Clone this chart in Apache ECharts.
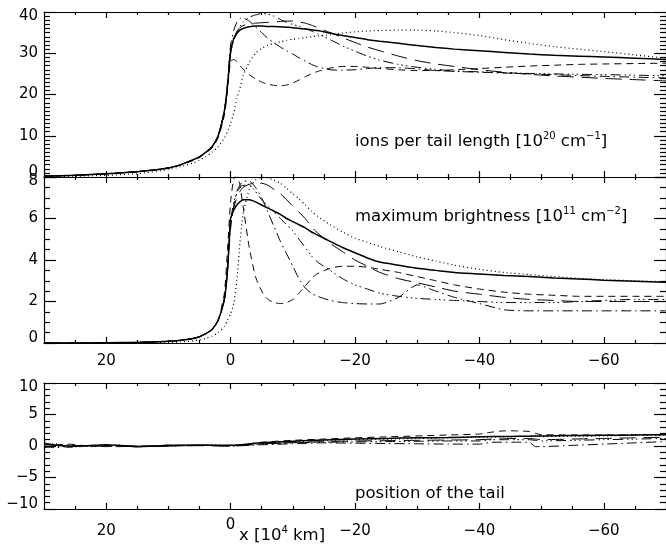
<!DOCTYPE html>
<html><head><meta charset="utf-8">
<script src="https://cdn.jsdelivr.net/npm/echarts@6/dist/echarts.min.js"></script>
<style>html,body{margin:0;padding:0;background:#fff}#c{width:666px;height:548px}</style>
</head><body><div id="c"></div>
<script>
// shared x grid for panels 1 and 2 (x in 10^4 km)
const xs = [30, 25, 20, 15, 10, 8, 6, 5, 4, 3, 2, 1, 0.5, 0, -0.5, -1, -1.5, -2, -3, -4, -5, -6, -7, -8, -9, -10, -11, -12, -13, -14, -16, -18, -20, -22, -24, -27, -30, -33, -36, -40, -44, -48, -52, -56, -60, -65, -70];

// panel 1: ions per tail length
const ionsSolid = [0.2,0.4,0.8,1.3,2.2,3.0,4.2,4.9,6.0,7.3, 10,16,22,30.5,33.5,34.8,35.6,36,36.4,36.6, 36.6,36.5,36.5,36.4,36.3,36.2,36.0,35.9,35.7,35.5, 34.9,34.3,33.8,33.3,32.9,32.4,31.9,31.4,31.0,30.6, 30.2,29.8,29.5,29.3,29.1,28.8,28.5];
const ionsDotted = [0.1,0.2,0.4,0.8,1.8,2.5,3.4,4.1,4.9,6.0, 7.3,9.5,11,13,15.5,19,21.5,24.5,27.8,30, 31.2,31.9,32.4,32.8,33.1,33.4,33.6,33.8,34.0,34.2, 34.5,34.9,35.2,35.4,35.5,35.6,35.6,35.4,35.0,34.3, 33.3,32.4,31.6,31.0,30.4,29.6,28.8];
const ionsDashed = [0.2,0.4,0.8,1.3,2.1,2.9,4.0,4.7,5.8,7.0, 9.5,15,21,28,28.5,28,27,26.2,24.8,23.8, 23,22.5,22.2,22.1,22.3,22.8,23.5,24.3,25,25.6, 26.4,26.8,26.8,26.6,26.3,26,25.8,25.8,26,26.3, 26.6,26.9,27.1,27.3,27.4,27.5,27.6];
const ionsDashDot = [0.2,0.4,0.8,1.3,2.2,3.0,4.2,4.9,6.0,7.3, 10,16,23,32,35.5,37.5,38.4,38.5,37.8,36.4, 35,33.6,32.5,31.5,30.6,29.8,28.9,28.1,27.3,26.7, 26,25.9,26,26.3,26.5,26.5,26.2,25.8,25.6,25.4, 25.2,25,24.8,24.6,24.4,24.2,24];
const ionsDash3 = [0.2,0.4,0.8,1.3,2.2,3.0,4.2,4.9,6.0,7.3, 10,16,22,30,33,35,36.5,37.5,38.7,39.3, 39.6,39.5,39,38.2,37.5,37,36.5,36,35.4,34.7, 33.3,31.8,30.5,29.3,28.3,27.3,26.6,26.1,25.7,25.5, 25.3,25.1,25,24.9,24.8,24.7,24.5];
const ionsLong = [0.2,0.4,0.8,1.3,2.2,3.0,4.2,4.9,6.0,7.3, 10,16,22,30,33.5,35.3,36.2,36.7,37.1,37.3, 37.4,37.5,37.6,37.7,37.8,37.8,37.6,37.3,36.8,36.2, 35,33.8,32.6,31.5,30.6,29.3,28.2,27.4,26.8,26, 25.4,24.9,24.5,24.2,23.9,23.6,23.3];

// panel 2: maximum brightness
const brSolid = [0,0,0.01,0.03,0.08,0.13,0.22,0.3,0.45,0.65, 1.1,2.1,3.5,6.0,6.4,6.65,6.8,6.9,6.9,6.8, 6.65,6.5,6.35,6.2,6.0,5.85,5.7,5.55,5.35,5.2, 4.9,4.6,4.35,4.1,3.9,3.75,3.6,3.5,3.4,3.33, 3.25,3.2,3.13,3.08,3.03,2.98,2.93];
const brDotted = [0,0,0,0.01,0.03,0.05,0.1,0.15,0.22,0.33, 0.5,0.8,1.1,1.4,1.9,3.0,4.8,6.2,7.4,7.85, 8.0,7.95,7.85,7.7,7.45,7.2,6.95,6.65,6.35,6.1, 5.7,5.35,5.05,4.85,4.65,4.4,4.15,3.95,3.75,3.55, 3.4,3.3,3.2,3.12,3.05,3.0,2.95];
const brDashed = [0,0,0.01,0.03,0.08,0.13,0.22,0.3,0.45,0.65, 1.1,2.4,4.5,6.8,7.9,8.1,7.6,6.6,4.6,3.2, 2.5,2.1,1.95,1.9,1.95,2.1,2.4,2.75,3.1,3.35, 3.6,3.7,3.7,3.65,3.55,3.4,3.2,3.0,2.8,2.6, 2.45,2.35,2.3,2.25,2.25,2.25,2.25];
const brDashDot = [0,0,0.01,0.03,0.08,0.13,0.22,0.3,0.45,0.65, 1.1,2.1,3.5,5.5,6.6,7.3,7.6,7.8,7.8,7.5, 7.0,6.3,5.6,4.9,4.3,3.7,3.1,2.65,2.4,2.25, 2.05,1.95,1.9,1.88,1.88,2.2,2.8,2.5,2.2,1.9, 1.6,1.55,1.55,1.55,1.55,1.55,1.55];
const brDash3 = [0,0,0.01,0.03,0.08,0.13,0.22,0.3,0.45,0.65, 1.1,2.1,3.5,5.8,6.8,7.2,7.5,7.6,7.6,7.3, 6.9,6.6,6.3,6.0,5.7,5.4,5.0,4.6,4.2,3.9, 3.5,3.1,2.8,2.6,2.4,2.25,2.15,2.1,2.05,2.0, 1.95,1.95,1.95,2.0,2.05,2.1,2.1];
const brLong = [0,0,0.01,0.03,0.08,0.13,0.22,0.3,0.45,0.65, 1.1,2.1,3.5,5.8,6.5,7.0,7.3,7.5,7.65,7.7, 7.7,7.6,7.4,7.2,6.9,6.6,6.3,6.0,5.6,5.3, 4.8,4.4,4.0,3.7,3.4,3.1,2.9,2.7,2.5,2.35, 2.2,2.1,2.05,2.0,2.0,2.0,2.0];

// panel 3: position of the tail
const xs3 = [30,28,26,24,22,20,18,15,12,10,5,0,-5,-10,-15,-20,-25,-30,-35,-40,-42,-44,-46,-48,-49,-50,-55,-60,-65,-70];
const posSolid = [0.3,0.1,0,0,0.1,0.2,0.1,-0.1,0,0.1,0.15,0.1,0.5,0.75,0.95,1.1,1.2,1.3,1.35,1.45,1.5,1.5,1.55,1.55,1.6,1.6,1.65,1.7,1.75,1.8];
const posDotted = [0.2,0.4,-0.2,-0.1,0,0,0.1,-0.1,0,0.05,0.2,0.1,0.4,0.7,0.9,1.0,1.1,1.2,1.3,1.4,1.4,1.45,1.5,1.55,1.6,1.5,1.55,1.6,1.7,1.75];
const posDashed = [0.5,0.2,0.3,0.1,0,0.1,0,-0.1,0,0.1,0.1,0.05,0.6,0.9,1.1,1.3,1.45,1.6,1.75,1.9,2.2,2.4,2.4,2.3,2.0,1.8,1.75,1.75,1.75,1.8];
const posDashDot = [-0.3,0,-0.2,0.1,0,-0.1,0,-0.1,0,0,0.1,0,0.2,0.35,0.5,0.45,0.4,0.35,0.3,0.3,0.6,0.6,0.6,0.6,-0.1,-0.1,0.1,0.3,0.5,0.7];
const posDash3 = [0,-0.3,0.2,0,-0.1,0,0.1,0,-0.1,0,0.1,0,0.3,0.5,0.6,0.65,0.7,0.75,0.8,0.8,1.0,1.0,1.0,1.0,0.9,0.8,0.9,1.0,1.1,1.2];
const posLong = [0.2,0.1,-0.1,0,0,0,-0.1,0,0,0,0.05,0,0.35,0.55,0.7,0.8,0.85,0.9,0.95,1.0,1.1,1.15,1.2,1.2,1.1,1.0,1.1,1.2,1.3,1.4];

// tick values
const xMajorTicks = [20, 0, -20, -40, -60];
const xMinorTicks = [25, 15, 10, 5, -5, -10, -15, -25, -30, -35, -45, -50, -55, -65];
const xTitle = 'x [10{s|4} km]';
const labels = [
  'ions per tail length [10{s|20} cm{s|\u22121}]',
  'maximum brightness [10{s|11} cm{s|\u22122}]',
  'position of the tail'
];

const FONT = 'DejaVu Sans';
const minus = v => String(v).replace('-', '\u2212');

const grids = [
  {left: 44, top: 12, width: 625, height: 165},
  {left: 44, top: 177, width: 625, height: 166},
  {left: 44, top: 383, width: 625, height: 126}
];
const yCfg = [
  {min: 0, max: 40, interval: 10, split: 10},
  {min: 0, max: 8, interval: 2, split: 4},
  {min: -10, max: 10, interval: 5, split: 5}
];
const TICK = {color: '#000', width: 1.2};
const LBL = {fontFamily: FONT, fontSize: 15, color: '#000'};

const xAxes = [], yAxes = [];
grids.forEach((g, i) => {
  const base = {type: 'value', gridIndex: i, min: -70, max: 30, inverse: true, splitLine: {show: false}};
  ['bottom', 'top'].forEach(pos => {
    xAxes.push(Object.assign({}, base, {
      position: pos,
      axisLine: {show: true, onZero: false, lineStyle: {color: '#000', width: 1.2}},
      axisTick: {show: true, inside: true, length: 6, customValues: xMajorTicks, lineStyle: TICK},
      axisLabel: {show: pos === 'bottom' && i > 0, customValues: xMajorTicks, margin: i === 2 ? 9 : 11,
        color: '#000', fontFamily: FONT, fontSize: 15,
        formatter: v => (i === 2 && v !== 0) ? '{n|' + minus(v) + '}' : minus(v),
        rich: {n: Object.assign({padding: [6, 0, 0, 0]}, LBL)}}
    }));
    xAxes.push(Object.assign({}, base, {
      position: pos,
      axisLine: {show: false, onZero: false},
      axisTick: {show: true, inside: true, length: 3, customValues: xMinorTicks, lineStyle: TICK},
      axisLabel: {show: false}
    }));
  });
  const c = yCfg[i];
  ['left', 'right'].forEach(pos => {
    yAxes.push({
      type: 'value', gridIndex: i, position: pos, min: c.min, max: c.max, interval: c.interval,
      splitLine: {show: false},
      axisLine: {show: true, onZero: false, lineStyle: {color: '#000', width: 1.2}},
      axisTick: {show: true, inside: true, length: 12, lineStyle: TICK},
      minorTick: {show: true, splitNumber: c.split, length: 6, lineStyle: TICK},
      axisLabel: {show: pos === 'left', margin: 6, color: '#000', fontFamily: FONT, fontSize: 15,
        formatter: v => v === c.max ? '{t|' + minus(v) + '}' : (v === c.min ? '{b|' + minus(v) + '}' : minus(v)),
        rich: {
          t: Object.assign({padding: [9, 0, 0, 0]}, LBL),
          b: Object.assign({padding: [0, 0, 10, 0]}, LBL)
        }}
    });
  });
});

const styles = {
  solid: {type: 'solid', width: 1.5},
  dotted: {type: [1, 3], width: 1.2},
  dashed: {type: [7, 5], width: 1},
  dashdot: {type: [10, 4, 1.5, 4], width: 1},
  dash3: {type: [10, 4, 1.5, 3, 1.5, 3, 1.5, 4], width: 1},
  long: {type: [16, 8], width: 1}
};
const panels = [
  {x: xs, ys: {solid: ionsSolid, dotted: ionsDotted, dashed: ionsDashed, dashdot: ionsDashDot, dash3: ionsDash3, long: ionsLong}},
  {x: xs, ys: {solid: brSolid, dotted: brDotted, dashed: brDashed, dashdot: brDashDot, dash3: brDash3, long: brLong}},
  {x: xs3, ys: {solid: posSolid, dotted: posDotted, dashed: posDashed, dashdot: posDashDot, dash3: posDash3, long: posLong}}
];
const series = [];
panels.forEach((p, i) => {
  Object.keys(p.ys).forEach(k => {
    series.push({
      type: 'line', xAxisIndex: 4 * i, yAxisIndex: 2 * i, showSymbol: false, symbol: 'none',
      smooth: 0.2, animation: false, silent: true,
      lineStyle: Object.assign({color: '#000'}, styles[k]),
      data: p.x.map((x, j) => [x, p.ys[k][j]])
    });
  });
});

const txt = {fontFamily: FONT, fontSize: 16.5, fontWeight: 'normal', color: '#000', lineHeight: 22,
  rich: {s: {fontFamily: FONT, fontSize: 10, verticalAlign: 'top', lineHeight: 12, color: '#000'}}};
const titles = [
  {text: labels[0], left: 355, top: 131, padding: 0, textStyle: txt},
  {text: labels[1], left: 355, top: 206, padding: 0, textStyle: txt},
  {text: labels[2], left: 355, top: 483, padding: 0, textStyle: txt},
  {text: xTitle, left: 239, top: 525, padding: 0, textStyle: txt}
];

const chart = echarts.init(document.getElementById('c'), null, {renderer: 'canvas'});
chart.setOption({
  animation: false,
  backgroundColor: '#fff',
  title: titles,
  grid: grids,
  xAxis: xAxes,
  yAxis: yAxes,
  series: series
});
</script></body></html>
